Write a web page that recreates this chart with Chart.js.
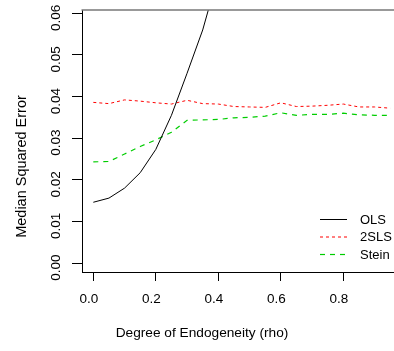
<!DOCTYPE html>
<html>
<head>
<meta charset="utf-8">
<script src="https://cdn.jsdelivr.net/npm/chart.js@4.4.0/dist/chart.umd.min.js"></script>
<style>
  html, body { margin: 0; padding: 0; background: #ffffff; }
  #wrap { width: 394px; height: 351px; }
</style>
</head>
<body>
<div id="wrap"><canvas id="c" width="394" height="351"></canvas></div>
<script>
// ---- data ----
const rho = [0.00, 0.05, 0.10, 0.15, 0.20, 0.25, 0.30, 0.35, 0.40, 0.45,
             0.50, 0.55, 0.60, 0.65, 0.70, 0.75, 0.80, 0.85, 0.90, 0.95];
const olsMSE = [0.0146, 0.0156, 0.0180, 0.0217, 0.0273, 0.0355, 0.0456, 0.0560, 0.0693, null,
                null, null, null, null, null, null, null, null, null, null];
const tslsMSE = [0.0386, 0.0383, 0.0392, 0.0389, 0.0385, 0.0382, 0.0391, 0.0383, 0.0382, 0.0376,
                 0.0375, 0.0374, 0.0385, 0.0376, 0.0377, 0.0379, 0.0382, 0.0375, 0.0375, 0.0372];
const steinMSE = [0.0243, 0.0244, 0.0262, 0.0280, 0.0296, 0.0314, 0.0343, 0.0344, 0.0345, 0.0349,
                  0.0350, 0.0353, 0.0361, 0.0355, 0.0357, 0.0357, 0.0360, 0.0356, 0.0355, 0.0355];
const seriesNames = ['OLS', '2SLS', 'Stein'];
const xTickValues = [0.0, 0.2, 0.4, 0.6, 0.8];
const xTickLabels = ['0.0', '0.2', '0.4', '0.6', '0.8'];
const yTickValues = [0.00, 0.01, 0.02, 0.03, 0.04, 0.05, 0.06];
const yTickLabels = ['0.00', '0.01', '0.02', '0.03', '0.04', '0.05', '0.06'];
const xTitle = 'Degree of Endogeneity (rho)';
const yTitle = 'Median Squared Error';

const FONT = '"Liberation Sans", Arial, Helvetica, sans-serif';

function pts(vals) { return rho.map((x, i) => ({ x: x, y: vals[i] })); }

const decor = {
  id: 'decor',
  afterDraw(chart) {
    const ctx = chart.ctx;
    const a = chart.chartArea;
    const xs = chart.scales.x;
    const ys = chart.scales.y;
    ctx.save();
    // top box line
    ctx.strokeStyle = '#777777';
    ctx.lineWidth = 1.5;
    ctx.beginPath();
    ctx.moveTo(a.left - 0.5, a.top);
    ctx.lineTo(a.right, a.top);
    ctx.stroke();

    ctx.fillStyle = '#000';
    ctx.textAlign = 'center';
    ctx.textBaseline = 'middle';

    // rotated y tick labels
    ctx.font = '13.5px ' + FONT;
    yTickValues.forEach((v, i) => {
      const py = ys.getPixelForValue(v) + 4.5;
      ctx.save();
      ctx.translate(56.5, py);
      ctx.rotate(-Math.PI / 2);
      ctx.fillText(yTickLabels[i], 0, 0);
      ctx.restore();
    });

    // x tick labels
    xTickValues.forEach((v, i) => {
      const px = xs.getPixelForValue(v) - 4.5;
      ctx.fillText(xTickLabels[i], px, 299.5);
    });

    // axis titles
    ctx.font = '14.5px ' + FONT;
    ctx.save();
    ctx.translate(21.5, 166.5);
    ctx.rotate(-Math.PI / 2);
    ctx.fillText(yTitle, 0, 0);
    ctx.restore();
    ctx.font = '13.7px ' + FONT;
    ctx.fillText(xTitle, 202, 333.5);

    // legend
    const rows = [219.5, 237, 254.5];
    ctx.font = '13px ' + FONT;
    ctx.textAlign = 'left';
    chart.data.datasets.forEach((ds, i) => {
      ctx.save();
      ctx.strokeStyle = ds.borderColor;
      ctx.lineWidth = ds.borderWidth;
      ctx.setLineDash(ds.borderDash || []);
      ctx.beginPath();
      ctx.moveTo(320, rows[i]);
      ctx.lineTo(347, rows[i]);
      ctx.stroke();
      ctx.restore();
      ctx.fillStyle = '#000';
      ctx.fillText(ds.label, 360, rows[i] + 0.5);
    });
    ctx.restore();
  }
};

new Chart(document.getElementById('c'), {
  type: 'line',
  data: {
    datasets: [
      { label: seriesNames[0], data: pts(olsMSE), borderColor: '#000000', borderWidth: 1,
        borderDash: [], pointRadius: 0, tension: 0, fill: false, spanGaps: false },
      { label: seriesNames[1], data: pts(tslsMSE), borderColor: '#ff0000', borderWidth: 1,
        borderDash: [3, 3], pointRadius: 0, tension: 0, fill: false },
      { label: seriesNames[2], data: pts(steinMSE), borderColor: '#00cd00', borderWidth: 1.2,
        borderDash: [5, 5], pointRadius: 0, tension: 0, fill: false }
    ]
  },
  options: {
    responsive: false,
    animation: false,
    devicePixelRatio: 1,
    layout: { padding: { top: 10, left: 0, right: 0, bottom: 0 } },
    plugins: { legend: { display: false }, tooltip: { enabled: false } },
    scales: {
      x: {
        type: 'linear',
        min: -0.0362,
        max: 0.9622,
        afterBuildTicks: (s) => { s.ticks = xTickValues.map(v => ({ value: v })); },
        afterFit: (s) => { s.height = 79; },
        grid: { drawOnChartArea: false, drawTicks: true, tickLength: 9, color: '#000', tickColor: '#000', tickWidth: 1 },
        border: { display: true, color: '#000', width: 1 },
        ticks: {
          autoSkip: false, maxRotation: 0, minRotation: 0, padding: 10,
          color: 'rgba(0,0,0,0)', font: { family: FONT, size: 13 },
          callback: (v) => { const i = xTickValues.indexOf(v); return i >= 0 ? xTickLabels[i] : ''; }
        }
      },
      y: {
        type: 'linear',
        min: -0.00216,
        max: 0.0608,
        afterBuildTicks: (s) => { s.ticks = yTickValues.map(v => ({ value: v })); },
        afterFit: (s) => { s.width = 82; },
        grid: { drawOnChartArea: false, drawTicks: true, tickLength: 10, color: '#000', tickColor: '#000', tickWidth: 1 },
        border: { display: true, color: '#000', width: 1 },
        ticks: { color: 'rgba(0,0,0,0)', padding: 2, font: { family: FONT, size: 13 },
                 callback: (v) => { const i = yTickValues.indexOf(v); return i >= 0 ? yTickLabels[i] : ''; } }
      }
    }
  },
  plugins: [decor]
});
</script>
</body>
</html>
